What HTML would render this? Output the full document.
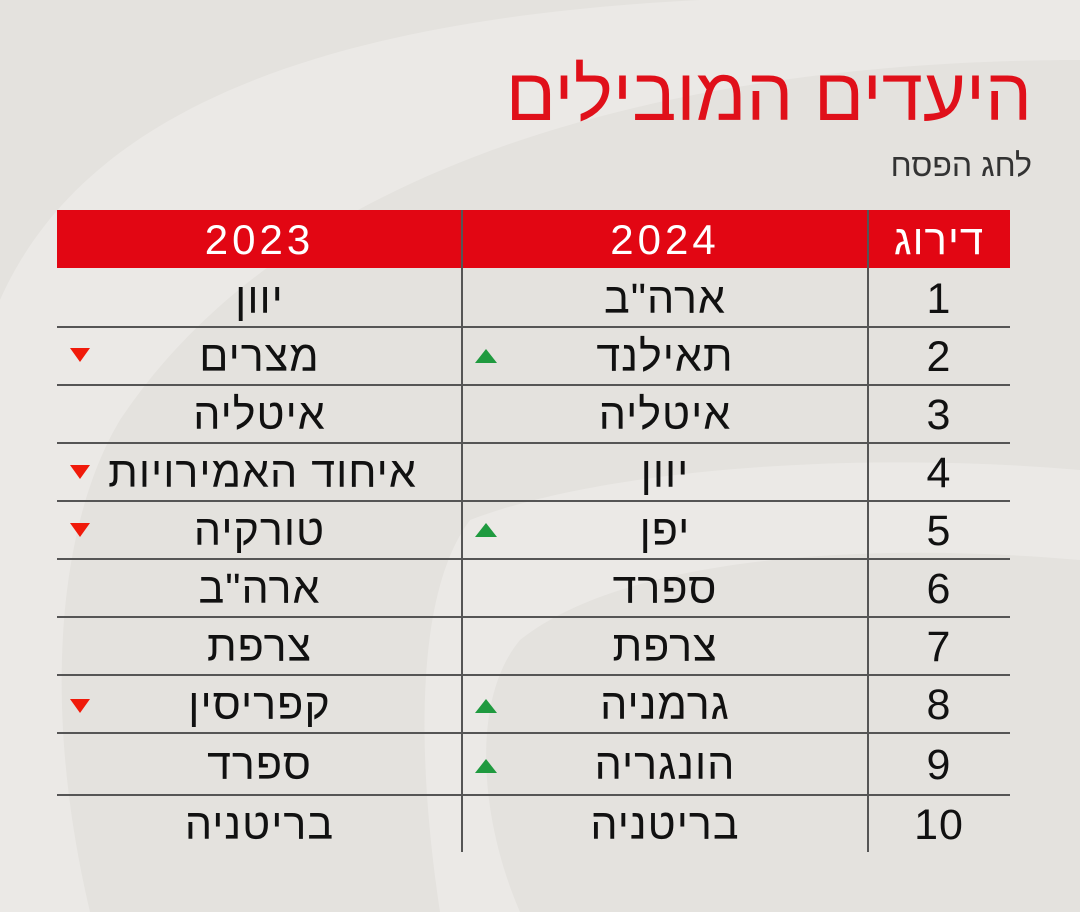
<!DOCTYPE html>
<html><head><meta charset="utf-8"><style>
body{margin:0;width:1080px;height:912px;overflow:hidden;background:#e4e2de;font-family:"Liberation Sans","Noto Sans CJK SC",sans-serif;position:relative}
.a{position:absolute}
.t{position:absolute;text-align:center;font-size:43px;letter-spacing:1px;color:#111;line-height:58px;direction:rtl}
.h{position:absolute;text-align:center;font-size:42px;letter-spacing:4px;color:#fff;line-height:58px;top:211px}
.hl{position:absolute;left:57px;width:953px;height:1.5px;background:#555}
.up{position:absolute;width:0;height:0;border-left:11px solid transparent;border-right:11px solid transparent;border-bottom:14px solid #1f9a3f}
.dn{position:absolute;width:0;height:0;border-left:10px solid transparent;border-right:10px solid transparent;border-top:14px solid #f01a0a}
</style></head><body>
<svg class="a" style="left:0;top:0" width="1080" height="912">
<path d="M0 300 C80 120 300 20 700 0 L1080 0 L1080 60 C700 60 300 150 120 420 C60 520 40 700 90 912 L0 912Z" fill="#ebe9e6"/>
<path d="M470 520 C600 470 850 450 1080 470 L1080 560 C850 540 620 560 520 640 C470 700 480 820 520 912 L440 912 C420 780 410 600 470 520Z" fill="#ebe9e6"/>
</svg>
<div class="a" style="right:48px;top:52px;font-size:74px;color:#e0101a;direction:rtl;line-height:86px">היעדים המובילים</div>
<div class="a" style="right:48px;top:146px;font-size:32px;color:#333;direction:rtl;line-height:38px">לחג הפסח</div>
<div class="a" style="left:57px;top:210px;width:953px;height:58px;background:#e20613"></div>
<div class="h" style="left:57px;width:405px">2023</div>
<div class="h" style="left:462px;width:406px">2024</div>
<div class="h" style="left:868px;width:142px;direction:rtl;letter-spacing:1px">דירוג</div>
<div class="a" style="left:461px;top:210px;width:1.5px;height:642px;background:#555"></div>
<div class="a" style="left:867px;top:210px;width:1.5px;height:642px;background:#555"></div>
<div class="hl" style="top:326px"></div><div class="hl" style="top:384px"></div><div class="hl" style="top:442px"></div>
<div class="hl" style="top:500px"></div><div class="hl" style="top:558px"></div><div class="hl" style="top:616px"></div>
<div class="hl" style="top:674px"></div><div class="hl" style="top:732px"></div><div class="hl" style="top:794px"></div>

<div class="t" style="left:868px;width:142px;top:270px">1</div>
<div class="t" style="left:868px;width:142px;top:328px">2</div>
<div class="t" style="left:868px;width:142px;top:386px">3</div>
<div class="t" style="left:868px;width:142px;top:444px">4</div>
<div class="t" style="left:868px;width:142px;top:502px">5</div>
<div class="t" style="left:868px;width:142px;top:560px">6</div>
<div class="t" style="left:868px;width:142px;top:618px">7</div>
<div class="t" style="left:868px;width:142px;top:676px">8</div>
<div class="t" style="left:868px;width:142px;top:736px">9</div>
<div class="t" style="left:868px;width:142px;top:796px">10</div>

<div class="t" style="left:462px;width:406px;top:270px">ארה"ב</div>
<div class="t" style="left:462px;width:406px;top:328px">תאילנד</div>
<div class="t" style="left:462px;width:406px;top:386px">איטליה</div>
<div class="t" style="left:462px;width:406px;top:444px">יוון</div>
<div class="t" style="left:462px;width:406px;top:502px">יפן</div>
<div class="t" style="left:462px;width:406px;top:560px">ספרד</div>
<div class="t" style="left:462px;width:406px;top:618px">צרפת</div>
<div class="t" style="left:462px;width:406px;top:676px">גרמניה</div>
<div class="t" style="left:462px;width:406px;top:736px">הונגריה</div>
<div class="t" style="left:462px;width:406px;top:796px">בריטניה</div>

<div class="t" style="left:57px;width:405px;top:270px">יוון</div>
<div class="t" style="left:57px;width:405px;top:328px">מצרים</div>
<div class="t" style="left:57px;width:405px;top:386px">איטליה</div>
<div class="t" style="left:95px;width:335px;top:444px">איחוד האמירויות</div>
<div class="t" style="left:57px;width:405px;top:502px">טורקיה</div>
<div class="t" style="left:57px;width:405px;top:560px">ארה"ב</div>
<div class="t" style="left:57px;width:405px;top:618px">צרפת</div>
<div class="t" style="left:57px;width:405px;top:676px">קפריסין</div>
<div class="t" style="left:57px;width:405px;top:736px">ספרד</div>
<div class="t" style="left:57px;width:405px;top:796px">בריטניה</div>

<div class="up" style="left:475px;top:349px"></div>
<div class="up" style="left:475px;top:523px"></div>
<div class="up" style="left:475px;top:699px"></div>
<div class="up" style="left:475px;top:759px"></div>
<div class="dn" style="left:70px;top:348px"></div>
<div class="dn" style="left:70px;top:465px"></div>
<div class="dn" style="left:70px;top:523px"></div>
<div class="dn" style="left:70px;top:699px"></div>
</body></html>
